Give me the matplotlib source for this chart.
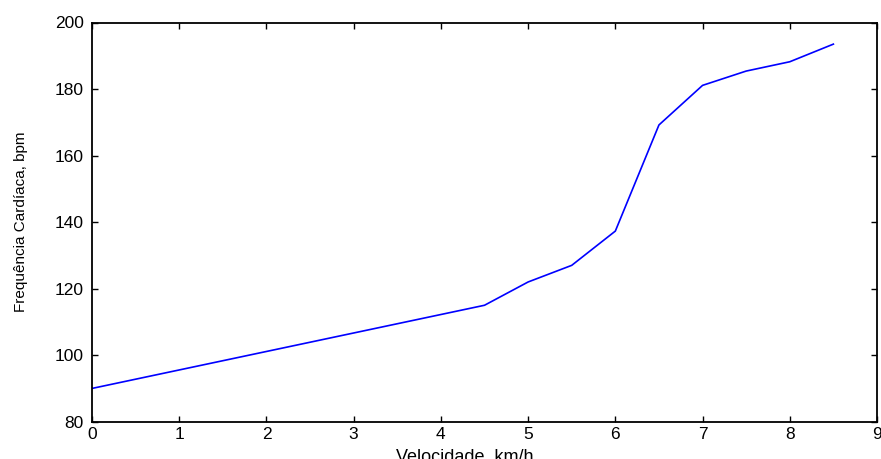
import matplotlib
matplotlib.use("Agg")
import matplotlib.pyplot as plt

# Heart rate vs. treadmill speed
velocidade = [0, 4.5, 5, 5.5, 6, 6.5, 7, 7.5, 8, 8.5]
frequencia = [90, 115, 122, 127, 137.3, 169.2, 181.1, 185.4, 188.2, 193.5]

x_ticks = [0, 1, 2, 3, 4, 5, 6, 7, 8, 9]
y_ticks = [80, 100, 120, 140, 160, 180, 200]

plt.rcParams["font.family"] = ["Liberation Sans", "DejaVu Sans"]

fig = plt.figure(figsize=(8.81, 4.59), dpi=100)
ax = fig.add_axes([92 / 881, 1 - 421.7 / 459, 785 / 881, 399.2 / 459])

ax.plot(velocidade, frequencia, color="#0000ff", linewidth=1.2)

ax.set_xlim(0, 9)
ax.set_ylim(80, 200)
ax.set_xticks(x_ticks)
ax.set_yticks(y_ticks)
ax.tick_params(direction="in", length=4, width=1, top=True, right=True,
               labelsize=12.5)
ax.tick_params(axis="x", pad=4)
ax.tick_params(axis="y", pad=6)
for s in ax.spines.values():
    s.set_linewidth(1.3)

ax.set_xlabel("Velocidade, km/h", fontsize=13)
ax.set_ylabel("Frequência Cardíaca, bpm", fontsize=11)
ax.xaxis.set_label_coords(0.475, -0.066)
ax.yaxis.set_label_coords(-0.082, 0.5)

fig.savefig("out.png", dpi=100)
